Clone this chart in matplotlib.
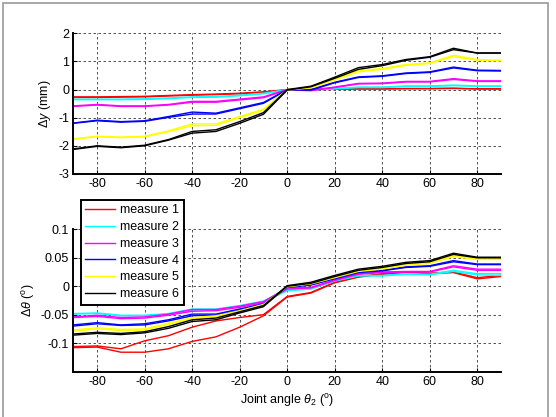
import matplotlib
matplotlib.use("Agg")
import matplotlib.pyplot as plt
from matplotlib.patches import Rectangle

plt.rcParams['font.family'] = ['Liberation Sans', 'DejaVu Sans']
plt.rcParams['mathtext.fontset'] = 'custom'
plt.rcParams['mathtext.rm'] = 'Liberation Sans'
plt.rcParams['mathtext.it'] = 'Liberation Sans:italic'
plt.rcParams['font.size'] = 9

# joint angle samples (deg)
angles = [-90, -80, -70, -60, -50, -40, -30, -20, -10, 0,
          10, 20, 30, 40, 50, 60, 70, 80, 90]

labels = ['measure 1', 'measure 2', 'measure 3', 'measure 4', 'measure 5', 'measure 6']
colors = ['#ff0000', '#00ffff', '#ff00ff', '#0000ff', '#ffff00', '#000000']

# position error dy (mm), two runs per measure
dy_m1_a = [-0.26, -0.26, -0.25, -0.24, -0.21, -0.18, -0.16, -0.13, -0.08, 0.00, 0.01, 0.02, 0.03, 0.03, 0.04, 0.04, 0.05, 0.03, 0.03]
dy_m1_b = [-0.28, -0.28, -0.27, -0.26, -0.23, -0.20, -0.18, -0.15, -0.10, -0.01, 0.00, 0.01, 0.02, 0.02, 0.03, 0.03, 0.04, 0.02, 0.02]
dy_m2_a = [-0.34, -0.34, -0.34, -0.33, -0.30, -0.26, -0.25, -0.20, -0.13, 0.00, 0.00, 0.04, 0.09, 0.09, 0.13, 0.13, 0.16, 0.13, 0.13]
dy_m2_b = [-0.36, -0.36, -0.36, -0.35, -0.32, -0.28, -0.27, -0.22, -0.15, -0.01, -0.01, 0.02, 0.07, 0.07, 0.11, 0.11, 0.14, 0.11, 0.11]
dy_m3_a = [-0.58, -0.53, -0.58, -0.58, -0.53, -0.42, -0.42, -0.34, -0.26, 0.00, -0.02, 0.09, 0.22, 0.23, 0.29, 0.29, 0.39, 0.31, 0.31]
dy_m3_b = [-0.60, -0.55, -0.60, -0.60, -0.55, -0.45, -0.45, -0.37, -0.29, -0.01, -0.04, 0.07, 0.20, 0.21, 0.27, 0.27, 0.36, 0.29, 0.29]
dy_m4_a = [-1.19, -1.09, -1.14, -1.11, -0.96, -0.80, -0.84, -0.65, -0.46, 0.00, 0.00, 0.26, 0.45, 0.49, 0.59, 0.63, 0.80, 0.69, 0.68]
dy_m4_b = [-1.20, -1.11, -1.16, -1.13, -0.99, -0.87, -0.87, -0.68, -0.49, -0.01, -0.02, 0.24, 0.43, 0.47, 0.57, 0.61, 0.77, 0.67, 0.66]
dy_m5_a = [-1.75, -1.66, -1.69, -1.66, -1.47, -1.22, -1.22, -0.96, -0.70, 0.00, 0.08, 0.37, 0.67, 0.75, 0.89, 0.95, 1.22, 1.07, 1.04]
dy_m5_b = [-1.77, -1.68, -1.71, -1.68, -1.50, -1.29, -1.27, -1.00, -0.74, -0.02, 0.06, 0.34, 0.63, 0.72, 0.86, 0.93, 1.17, 1.04, 1.02]
dy_m6_a = [-2.11, -2.00, -2.05, -1.98, -1.78, -1.49, -1.43, -1.14, -0.82, 0.00, 0.12, 0.44, 0.78, 0.89, 1.07, 1.17, 1.47, 1.30, 1.30]
dy_m6_b = [-2.13, -2.02, -2.07, -2.00, -1.80, -1.55, -1.49, -1.20, -0.88, -0.02, 0.10, 0.40, 0.72, 0.85, 1.04, 1.15, 1.42, 1.30, 1.30]

# orientation error dtheta (deg), two runs per measure
dt_m1_a = [-0.106, -0.105, -0.110, -0.096, -0.087, -0.072, -0.061, -0.055, -0.050, -0.018, -0.011, 0.007, 0.017, 0.022, 0.025, 0.023, 0.025, 0.015, 0.019]
dt_m1_b = [-0.108, -0.107, -0.116, -0.116, -0.110, -0.097, -0.089, -0.072, -0.052, -0.019, -0.012, 0.006, 0.016, 0.021, 0.024, 0.022, 0.024, 0.013, 0.017]
dt_m2_a = [-0.048, -0.047, -0.051, -0.051, -0.048, -0.040, -0.040, -0.034, -0.026, -0.006, -0.004, 0.010, 0.019, 0.019, 0.022, 0.021, 0.028, 0.022, 0.022]
dt_m2_b = [-0.049, -0.048, -0.052, -0.052, -0.049, -0.042, -0.041, -0.035, -0.027, -0.008, -0.005, 0.009, 0.018, 0.018, 0.021, 0.020, 0.026, 0.020, 0.019]
dt_m3_a = [-0.054, -0.051, -0.055, -0.054, -0.049, -0.041, -0.041, -0.035, -0.027, -0.003, -0.002, 0.011, 0.022, 0.025, 0.026, 0.026, 0.036, 0.030, 0.030]
dt_m3_b = [-0.055, -0.053, -0.057, -0.056, -0.051, -0.044, -0.043, -0.037, -0.029, -0.005, -0.003, 0.010, 0.021, 0.024, 0.025, 0.025, 0.034, 0.028, 0.028]
dt_m4_a = [-0.068, -0.064, -0.068, -0.066, -0.059, -0.049, -0.049, -0.040, -0.031, -0.001, 0.003, 0.015, 0.025, 0.028, 0.034, 0.036, 0.045, 0.039, 0.039]
dt_m4_b = [-0.070, -0.066, -0.069, -0.068, -0.061, -0.052, -0.051, -0.042, -0.033, -0.002, 0.002, 0.013, 0.024, 0.027, 0.033, 0.035, 0.043, 0.038, 0.038]
dt_m5_a = [-0.077, -0.073, -0.076, -0.075, -0.065, -0.055, -0.052, -0.043, -0.032, 0.000, 0.005, 0.017, 0.028, 0.032, 0.039, 0.042, 0.054, 0.048, 0.048]
dt_m5_b = [-0.079, -0.075, -0.078, -0.077, -0.067, -0.057, -0.054, -0.045, -0.034, -0.001, 0.004, 0.015, 0.026, 0.030, 0.037, 0.040, 0.052, 0.047, 0.047]
dt_m6_a = [-0.084, -0.081, -0.083, -0.080, -0.071, -0.059, -0.056, -0.045, -0.034, 0.001, 0.007, 0.019, 0.030, 0.035, 0.042, 0.045, 0.058, 0.051, 0.051]
dt_m6_b = [-0.086, -0.083, -0.085, -0.082, -0.074, -0.062, -0.059, -0.047, -0.036, 0.000, 0.005, 0.017, 0.028, 0.033, 0.040, 0.043, 0.056, 0.050, 0.050]

dy_runs = [(dy_m1_a, dy_m1_b), (dy_m2_a, dy_m2_b), (dy_m3_a, dy_m3_b),
           (dy_m4_a, dy_m4_b), (dy_m5_a, dy_m5_b), (dy_m6_a, dy_m6_b)]
dt_runs = [(dt_m1_a, dt_m1_b), (dt_m2_a, dt_m2_b), (dt_m3_a, dt_m3_b),
           (dt_m4_a, dt_m4_b), (dt_m5_a, dt_m5_b), (dt_m6_a, dt_m6_b)]

xtick_vals = [-80, -60, -40, -20, 0, 20, 40, 60, 80]


def style_axes(ax):
    # matlab look: box off, dashed grid, ticks inside
    ax.spines['top'].set_visible(False)
    ax.spines['right'].set_visible(False)
    for s in ['left', 'bottom']:
        ax.spines[s].set_linewidth(1.4)
    ax.tick_params(direction='in', length=3, width=0.8, labelsize=9, pad=3)
    ax.grid(True, color='#333333', linestyle=(0, (3, 3)), linewidth=0.6)
    ax.set_axisbelow(True)
    ax.set_xlim(-90, 90)
    ax.set_xticks(xtick_vals)
    ax.set_xticklabels([str(v) for v in xtick_vals])


fig = plt.figure(figsize=(5.56, 4.17), dpi=100)
ax1 = fig.add_axes([0.132, 0.583, 0.769, 0.337])
ax2 = fig.add_axes([0.132, 0.109, 0.769, 0.341])

for (a, b), c in zip(dy_runs, colors):
    ax1.plot(angles, a, color=c, lw=1.0)
    ax1.plot(angles, b, color=c, lw=1.0)
style_axes(ax1)
ax1.set_ylim(-3, 2)
ax1.set_yticks([-3, -2, -1, 0, 1, 2])
ax1.set_yticklabels(['-3', '-2', '-1', '0', '1', '2'])
ax1.set_ylabel(r'$\mathit{\Delta y}$ (mm)', fontsize=9, labelpad=4)

handles = []
for (a, b), c, lab in zip(dt_runs, colors, labels):
    h, = ax2.plot(angles, a, color=c, lw=1.0, label=lab)
    ax2.plot(angles, b, color=c, lw=1.0)
    handles.append(h)
style_axes(ax2)
ax2.set_ylim(-0.15, 0.1)
ax2.set_yticks([-0.1, -0.05, 0, 0.05, 0.1])
ax2.set_yticklabels(['-0.1', '-0.05', '0', '0.05', '0.1'])
ax2.set_ylabel(r'$\mathit{\Delta\theta}$ ($\mathregular{^o}$)', fontsize=9, labelpad=3)
ax2.set_xlabel(r'Joint angle $\mathit{\theta}_2$ ($\mathregular{^o}$)', fontsize=9, labelpad=3)

leg = ax2.legend(handles=handles, loc='upper left', bbox_to_anchor=(0.0175, 1.206),
                 borderaxespad=0, fancybox=False, framealpha=1, edgecolor='black',
                 fontsize=9, handlelength=2.4, labelspacing=0.38, borderpad=0.35,
                 handletextpad=0.4)
leg.get_frame().set_linewidth(1.4)

# light grey figure frame
fig.patches.append(Rectangle((3 / 556, -0.05), 545 / 556, 1.05 - 3 / 417,
                             transform=fig.transFigure, fill=False,
                             edgecolor='#999999', lw=1.2))

fig.savefig('out.png', dpi=100)
